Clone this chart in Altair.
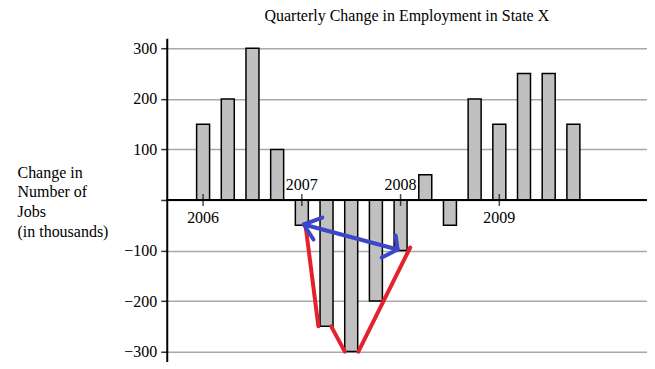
import altair as alt
import pandas as pd

# Quarterly change values (thousands), 2006 Q1 .. 2009 Q4
quarter = list(range(16))
change = [150, 200, 300, 100, -50, -250, -300, -200, -100, 50, -50, 200, 150, 250, 250, 150]

years = ["2006", "2007", "2008", "2009"]
year_q = [0, 4, 8, 12]
year_side = ["below", "above", "above", "below"]

title_text = ["Quarterly Change in Employment in State X"]

# Hand-drawn annotations (in data units)
red_seg = ["a", "a", "b", "b", "c", "c"]
red_x = [4.16, 4.67, 5.19, 5.74, 6.29, 8.39]
red_y = [-54, -250, -250, -300, -300, -94]

blue_seg = ["m", "m", "l", "l", "l", "r", "r", "r"]
blue_ord = [0, 1, 0, 1, 2, 0, 1, 2]
blue_x = [4.08, 7.88, 4.83, 4.08, 4.47, 7.80, 7.88, 7.24]
blue_y = [-48.5, -98, -34.7, -48.5, -78.2, -70.3, -98, -113.9]

FONT = "Liberation Serif"

bars_df = pd.DataFrame({"q": quarter, "v": change})
years_df = pd.DataFrame({"q": year_q, "year": years, "side": year_side})
title_df = pd.DataFrame({"t": title_text})
red_df = pd.DataFrame({"seg": red_seg, "x": red_x, "y": red_y})
blue_df = pd.DataFrame({"seg": blue_seg, "o": blue_ord, "x": blue_x, "y": blue_y})

xs = alt.Scale(domain=[-1.27, 17.78], nice=False, zero=False)
ys = alt.Scale(domain=[-320, 320], nice=False)

yaxis = alt.Axis(
    values=list(range(-300, 301, 50)),
    labelExpr="datum.value % 100 == 0 && datum.value != 0 ? datum.label : ''",
    grid=True, gridColor="#a8a8a8", gridWidth=1.5,
    domainColor="black", domainWidth=2,
    tickColor="#333333", tickWidth=1.5, tickSize=6,
    labelFont=FONT, labelFontSize=16, labelColor="black", labelPadding=4,
    title=["Change in", "Number of", "Jobs", "(in thousands)"],
    titleFont=FONT, titleFontSize=16, titleFontWeight="normal", titleColor="black",
    titleAngle=0, titleAlign="left", titleBaseline="alphabetic",
    titleX=-150, titleY=139, titleLineHeight=20,
)

bars = alt.Chart(bars_df).mark_bar(
    size=13, fill="#c0c0c0", stroke="black", strokeWidth=1.5
).encode(
    x=alt.X("q:Q", scale=xs, axis=None),
    y=alt.Y("v:Q", scale=ys, axis=yaxis),
)

zero = alt.Chart(bars_df).mark_rule(color="black", strokeWidth=2).encode(
    y=alt.datum(0, scale=ys)
)

ticks = alt.Chart(years_df).mark_tick(
    orient="vertical", size=12, thickness=1.5, color="black"
).encode(
    x=alt.X("q:Q", scale=xs),
    y=alt.datum(0, scale=ys),
)

lab_below = alt.Chart(years_df).transform_filter("datum.side == 'below'").mark_text(
    font=FONT, fontSize=16, color="black", dy=18
).encode(x=alt.X("q:Q", scale=xs), y=alt.datum(0, scale=ys), text="year:N")

lab_above = alt.Chart(years_df).transform_filter("datum.side == 'above'").mark_text(
    font=FONT, fontSize=16, color="black", dy=-15
).encode(x=alt.X("q:Q", scale=xs), y=alt.datum(0, scale=ys), text="year:N")

title = alt.Chart(title_df).mark_text(
    font=FONT, fontSize=16, color="black", align="center", baseline="alphabetic"
).encode(x=alt.value(240.5), y=alt.value(-17), text="t:N")

red = alt.Chart(red_df).mark_line(
    color="#e3222b", strokeWidth=4, strokeCap="round"
).encode(
    x=alt.X("x:Q", scale=xs), y=alt.Y("y:Q", scale=ys), detail="seg:N"
)

blue = alt.Chart(blue_df).mark_line(
    color="#3c46c8", strokeWidth=4, strokeCap="round", strokeJoin="round"
).encode(
    x=alt.X("x:Q", scale=xs), y=alt.Y("y:Q", scale=ys), detail="seg:N", order="o:Q"
)

chart = alt.layer(bars, zero, ticks, lab_below, lab_above, red, blue, title).properties(
    width=481, height=324,
    autosize=alt.AutoSizeParams(type="none"),
    padding={"left": 159, "top": 30, "right": 0, "bottom": 0},
).configure_view(stroke=None)

chart.save("out.html", embed_options={"renderer": "svg", "actions": False})
